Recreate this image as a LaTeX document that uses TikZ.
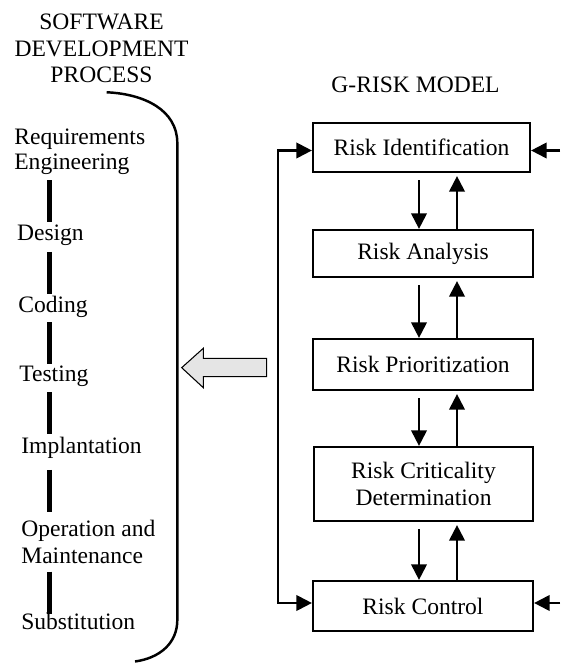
\documentclass[tikz,border=0pt]{standalone}
\usepackage{fontspec}
\setmainfont{Liberation Serif}
\usetikzlibrary{arrows.meta,calc}

\begin{document}
\begin{tikzpicture}[
  >={Triangle[length=0.31cm,width=0.31cm]},
  every node/.style={font=\fontsize{13.4}{15.2}\selectfont},
  riskbox/.style={draw, line width=1.25pt, minimum width=4.40cm, minimum height=1.0cm, align=center},
  stage/.style={anchor=base west, inner sep=0pt, text height=0.68em, text depth=0.22em},
  stagebar/.style={line width=2.3pt},
  flow/.style={line width=1.2pt, ->}
]
\useasboundingbox (0,0) rectangle (11.2,13.26);
\node [align=center, anchor=north, inner sep=0pt] (sdp) at (2.03,12.99) {SOFTWARE\\DEVELOPMENT\\PROCESS};
\node [anchor=base] (grm) at (8.31,11.40) {G-RISK MODEL};

\node [riskbox, minimum width=4.34cm, minimum height=0.98cm] (ident) at (8.43,10.31) {Risk Identification};
\node [riskbox, minimum height=0.94cm] (anal) at (8.46,8.19) {Risk Analysis};
\node [riskbox, minimum height=1.02cm] (prio) at (8.46,5.97) {Risk Prioritization};
\node [riskbox, minimum width=4.38cm, minimum height=1.48cm] (crit) at (8.47,3.58) {Risk Criticality\\Determination};
\node [riskbox] (ctrl) at (8.46,1.14) {Risk Control};

\coordinate (dnx) at (8.38,0);
\coordinate (upx) at (9.14,0);
\foreach \a/\b in {ident/anal, anal/prio, prio/crit, crit/ctrl}{
  \draw [flow, shorten <=0.14cm] (\a.south -| dnx) -- (\b.north -| dnx);
  \draw [flow, shorten >=0.06cm] (\b.north -| upx) -- (\a.south -| upx);
}
\coordinate (fbx) at (5.56,0);
\draw [flow, <->] ([yshift=-0.06cm]ident.west) -- ([yshift=-0.06cm]ident.west -| fbx) -- ([yshift=0.06cm]ctrl.west -| fbx) -- ([yshift=0.06cm]ctrl.west);
\coordinate (redge) at (11.2,0);
\draw [flow] ([yshift=-0.06cm]ident.east -| redge) -- ([yshift=-0.06cm]ident.east);
\draw [flow] ([yshift=0.06cm]ctrl.east -| redge) -- ([yshift=0.06cm]ctrl.east);

\node [stage] (req) at (0.28,10.36) {Requirements};
\node [stage] (eng) at (0.28,9.86) {Engineering};
\node [stage] (des) at (0.334,8.446) {Design};
\node [stage] (cod) at (0.36,7.0) {Coding};
\node [stage] (tst) at (0.38,5.626) {Testing};
\node [stage] (imp) at (0.42,4.194) {Implantation};
\node [stage] (opr) at (0.42,2.526) {Operation and};
\node [stage] (mnt) at (0.42,1.994) {Maintenance};
\node [stage] (sub) at (0.42,0.66) {Substitution};
\coordinate (bx) at (0.99,0);
\foreach \a/\b in {eng/des, des/cod, cod/tst, tst/imp, imp/opr, mnt/sub}
  \draw [stagebar] ($(\a.south -| bx)!0.5!(\b.north -| bx)$) ++(0,0.42) -- ++(0,-0.84);

\draw [line width=1.4pt] (2.134,11.414) .. controls (2.9,11.38) and (3.546,11.05) .. (3.546,10.4) -- (3.546,0.86) .. controls (3.546,0.4) and (3.2,0.1) .. (2.7,0.03);
\draw [line width=0.6pt, fill=black!10] (3.634,5.906) -- (4.066,6.294) -- (4.066,6.094) -- (5.334,6.094) -- (5.334,5.726) -- (4.066,5.726) -- (4.066,5.506) -- cycle;
\end{tikzpicture}
\end{document}
